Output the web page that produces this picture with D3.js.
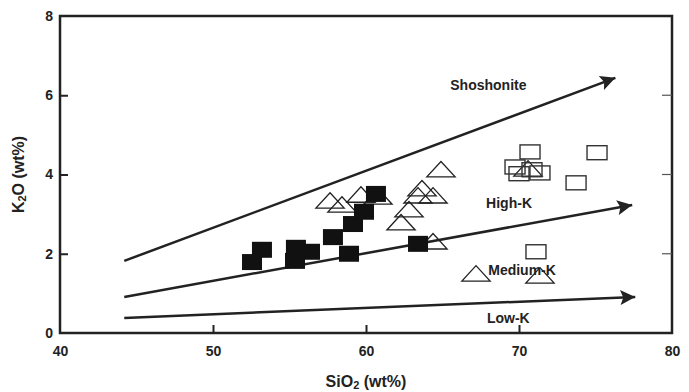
<!DOCTYPE html>
<html>
<head>
<meta charset="utf-8">
<script src="https://cdn.jsdelivr.net/npm/d3@7"></script>
<style>
  body { margin: 0; background: #fff; }
  text { font-family: "Liberation Sans", Arial, sans-serif; font-weight: bold; fill: #222; }
</style>
</head>
<body>
<script>
// data: [SiO2, K2O]
const filledSquares = [
  [52.55, 1.79], [53.2, 2.1], [55.42, 2.15], [55.36, 1.82], [56.34, 2.05],
  [57.84, 2.42], [58.89, 2.0], [59.15, 2.75], [59.87, 3.06], [60.65, 3.51], [63.4, 2.25]
];
const triangles = [
  [57.65, 3.28], [58.43, 3.18], [59.67, 3.43], [60.78, 3.38], [64.9, 4.07],
  [63.66, 3.59], [63.4, 3.41], [64.38, 3.41], [62.81, 3.06], [62.29, 2.73],
  [64.38, 2.25], [70.59, 4.09], [67.19, 1.44], [71.37, 1.39]
];
const openSquares = [
  [70.72, 4.57], [75.1, 4.55], [69.74, 4.19], [70.0, 4.02], [70.85, 4.12],
  [71.37, 4.04], [73.73, 3.79], [71.11, 2.05]
];
const arrows = [
  { name: "Shoshonite", from: [44.2, 1.82], to: [76.3, 6.44] },
  { name: "High-K", from: [44.2, 0.91], to: [77.4, 3.23] },
  { name: "Low-K", from: [44.2, 0.38], to: [77.6, 0.91] }
];
const fieldLabels = [
  { text: "Shoshonite", x: 68.0, y: 6.25 },
  { text: "High-K", x: 69.35, y: 3.28 },
  { text: "Medium-K", x: 70.2, y: 1.58 },
  { text: "Low-K", x: 69.3, y: 0.38 }
];
const xTicks = [40, 50, 60, 70, 80];
const yTicks = [0, 2, 4, 6, 8];

const W = 689, H = 392;
const m = { left: 60, right: 17, top: 16, bottom: 59 };

const svg = d3.select("body").append("svg")
  .attr("width", W).attr("height", H);

const x = d3.scaleLinear().domain([40, 80]).range([m.left, W - m.right]);
const y = d3.scaleLinear().domain([0, 8]).range([H - m.bottom, m.top]);

const ink = "#222";

svg.append("defs").append("marker")
  .attr("id", "head")
  .attr("viewBox", "0 0 10 10")
  .attr("refX", 10).attr("refY", 5)
  .attr("markerWidth", 8).attr("markerHeight", 6)
  .attr("markerUnits", "strokeWidth")
  .attr("orient", "auto")
  .append("path")
  .attr("d", "M0,0 L10,5 L0,10 L2,5 Z")
  .attr("fill", ink);

// frame
svg.append("rect")
  .attr("x", x(40)).attr("y", y(8))
  .attr("width", x(80) - x(40)).attr("height", y(0) - y(8))
  .attr("fill", "none").attr("stroke", ink).attr("stroke-width", 2.5);

// inward ticks
const xAxis = d3.axisBottom(x).tickValues(xTicks).tickSize(-8).tickPadding(13).tickFormat(d3.format("d"));
const gx = svg.append("g").attr("transform", `translate(0,${y(0)})`).call(xAxis);
const yAxis = d3.axisLeft(y).tickValues(yTicks).tickSize(-8).tickPadding(7).tickFormat(d3.format("d"));
const gy = svg.append("g").attr("transform", `translate(${x(40)},0)`).call(yAxis);
[gx, gy].forEach(g => {
  g.select(".domain").remove();
  g.selectAll(".tick line").attr("stroke", ink).attr("stroke-width", 2)
    .filter(d => d === 0 || d === 8 || d === 40 || d === 80).remove();
  g.selectAll(".tick text").attr("font-size", 14).attr("font-weight", "bold")
    .attr("font-family", "Liberation Sans, Arial, sans-serif").attr("fill", ink);
});
gx.selectAll(".tick text").attr("dy", "0.71em");

// right side ticks
svg.append("g").selectAll("line")
  .data(yTicks.filter(d => d > 0 && d < 8))
  .join("line")
  .attr("x1", x(80)).attr("x2", x(80) - 10)
  .attr("y1", d => y(d)).attr("y2", d => y(d))
  .attr("stroke", "#555").attr("stroke-width", 1.2);

// trend arrows
svg.append("g").selectAll("line")
  .data(arrows)
  .join("line")
  .attr("x1", d => x(d.from[0])).attr("y1", d => y(d.from[1]))
  .attr("x2", d => x(d.to[0])).attr("y2", d => y(d.to[1]))
  .attr("stroke", ink).attr("stroke-width", 2.5)
  .attr("marker-end", "url(#head)");

// field labels
svg.append("g").selectAll("text")
  .data(fieldLabels)
  .join("text")
  .attr("x", d => x(d.x)).attr("y", d => y(d.y))
  .attr("text-anchor", "middle").attr("dy", "0.35em")
  .attr("font-size", 14)
  .text(d => d.text);

// open triangles
const tri = d3.symbol().type(d3.symbolTriangle).size(190);
svg.append("g").selectAll("path")
  .data(triangles)
  .join("path")
  .attr("transform", d => `translate(${x(d[0])},${y(d[1])}) scale(1.35,0.85)`)
  .attr("d", tri)
  .attr("fill", "none").attr("stroke", ink).attr("stroke-width", 1.3)
  .attr("vector-effect", "non-scaling-stroke");

// open squares
svg.append("g").selectAll("rect")
  .data(openSquares)
  .join("rect")
  .attr("x", d => x(d[0]) - 10).attr("y", d => y(d[1]) - 7)
  .attr("width", 20).attr("height", 14)
  .attr("fill", "none").attr("stroke", "#333").attr("stroke-width", 1.4);

// filled squares
svg.append("g").selectAll("rect")
  .data(filledSquares)
  .join("rect")
  .attr("x", d => x(d[0]) - 10).attr("y", d => y(d[1]) - 8)
  .attr("width", 20).attr("height", 16)
  .attr("fill", "#111");

// axis titles
const xt = svg.append("text")
  .attr("x", (x(40) + x(80)) / 2).attr("y", 387)
  .attr("text-anchor", "middle").attr("font-size", 16);
xt.append("tspan").text("SiO");
xt.append("tspan").attr("font-size", 11).attr("dy", 2).text("2");
xt.append("tspan").attr("dy", -2).text(" (wt%)");

const yt = svg.append("text")
  .attr("transform", `translate(24,${(y(0) + y(8)) / 2}) rotate(-90)`)
  .attr("text-anchor", "middle").attr("font-size", 16);
yt.append("tspan").text("K");
yt.append("tspan").attr("font-size", 11).attr("dy", 2).text("2");
yt.append("tspan").attr("dy", -2).text("O (wt%)");
</script>
</body>
</html>
